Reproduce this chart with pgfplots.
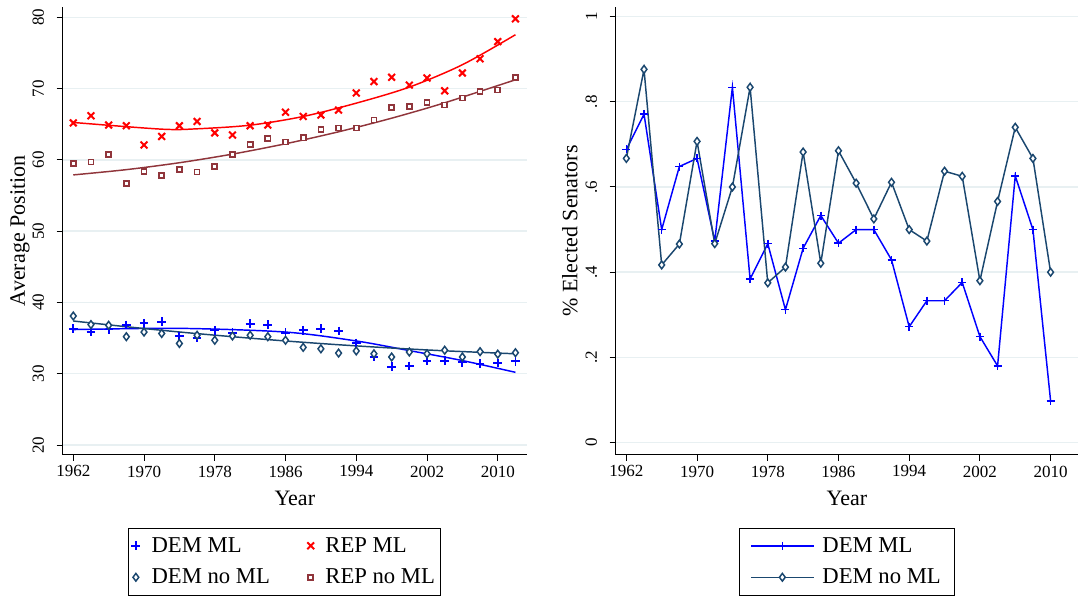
\documentclass[border=0pt]{standalone}
\usepackage{fontspec}
\setmainfont{Liberation Serif}
\usepackage{pgfplots}
\pgfplotsset{compat=1.18}
\definecolor{demblue}{RGB}{0,0,255}
\definecolor{repred}{RGB}{255,0,0}
\definecolor{navyc}{RGB}{26,71,111}
\definecolor{maroonc}{RGB}{144,53,59}
\definecolor{gridc}{RGB}{232,240,242}
\pgfplotsset{
  statastyle/.style={
    scale only axis,
    anchor=south west,
    axis x line*=bottom, axis y line*=left,
    axis line style={black, line width=0.75pt},
    tick align=outside,
    major tick length=4.5pt,
    major tick style={black, line width=0.75pt},
    ymajorgrids, grid style={color=gridc, line width=1.1pt},
    /pgf/number format/assume math mode=true,
    /pgf/number format/1000 sep={},
    tick label style={font=\fontsize{12.75}{14}\selectfont},
    yticklabel style={rotate=90, anchor=south},
    yticklabel shift=6pt,
    label style={font=\fontsize{16.5}{19}\selectfont},
    xtick={1962,1970,1978,1986,1994,2002,2010},
    xmin=1960.8,
  },
  lm/.style={only marks, legend image code/.code={\draw[mark repeat=2,mark phase=2,##1] plot coordinates {(0pt,0pt)(6pt,0pt)(12pt,0pt)};}},
  ll/.style={legend image code/.code={\draw[mark repeat=2,mark phase=2,##1] plot coordinates {(0pt,0pt)(23.5pt,0pt)(47pt,0pt)};}},
}
\begin{document}
\begin{tikzpicture}
\useasboundingbox (0,0) rectangle (808.5pt,449.25pt);
\begin{axis}[statastyle,
  at={(47pt,108pt)}, width=348.2pt, height=336.2pt,
  xmax=2013.3, ymin=18.6, ymax=81.5,
  ytick={20,30,40,50,60,70,80},
  xlabel={Year}, ylabel={Average Position},
  xlabel style={at={(axis description cs:0.5,-0.096)}, anchor=center},
  ylabel style={at={(axis description cs:-0.092,0.5)}, anchor=center},
  legend columns=2,
  legend cell align=left,
  legend style={at={(axis description cs:0.478,-0.162)}, anchor=north,
    draw=black, line width=0.6pt, font=\fontsize{17}{20}\selectfont,
    inner xsep=2pt, inner ysep=5pt, row sep=7pt,
    /tikz/every odd column/.append style={column sep=6.5pt},
    /tikz/every even column/.append style={column sep=26pt}},
]
\addplot[lm, demblue, mark=+, mark size=3.3pt, line width=1.4pt] coordinates {
(1962,36.3)(1964,35.85)(1966,36.2)(1968,36.85)(1970,37.1)(1972,37.3)(1974,35.3)(1976,35.05)(1978,36.1)(1980,35.75)(1982,37.0)(1984,36.9)(1986,35.75)(1988,36.1)(1990,36.3)(1992,36.0)(1994,34.3)(1996,32.4)(1998,31.0)(2000,31.1)(2002,31.85)(2004,31.85)(2006,31.6)(2008,31.4)(2010,31.5)(2012,31.75)};
\addlegendentry{DEM ML}
\addplot[lm, repred, mark=x, mark size=3.6pt, line width=1.5pt] coordinates {
(1962,65.2)(1964,66.2)(1966,64.9)(1968,64.8)(1970,62.1)(1972,63.3)(1974,64.8)(1976,65.4)(1978,63.8)(1980,63.5)(1982,64.8)(1984,64.9)(1986,66.7)(1988,66.1)(1990,66.3)(1992,67.0)(1994,69.4)(1996,71.0)(1998,71.6)(2000,70.5)(2002,71.5)(2004,69.7)(2006,72.2)(2008,74.2)(2010,76.6)(2012,79.8)};
\addlegendentry{REP ML}
\addplot[lm, navyc, mark=diamond*, mark size=2.9pt, line width=1.1pt, mark options={fill=white}] coordinates {
(1962,38.1)(1964,36.9)(1966,36.8)(1968,35.2)(1970,35.85)(1972,35.65)(1974,34.25)(1976,35.4)(1978,34.7)(1980,35.3)(1982,35.4)(1984,35.2)(1986,34.7)(1988,33.7)(1990,33.5)(1992,32.9)(1994,33.2)(1996,32.8)(1998,32.35)(2000,33.05)(2002,32.8)(2004,33.3)(2006,32.35)(2008,33.1)(2010,32.75)(2012,32.95)};
\addlegendentry{DEM no ML}
\addplot[lm, maroonc, mark=square*, mark size=1.9pt, line width=1.25pt, mark options={fill=white}] coordinates {
(1962,59.5)(1964,59.7)(1966,60.8)(1968,56.7)(1970,58.4)(1972,57.8)(1974,58.7)(1976,58.3)(1978,59.1)(1980,60.8)(1982,62.2)(1984,63.0)(1986,62.5)(1988,63.1)(1990,64.3)(1992,64.5)(1994,64.5)(1996,65.6)(1998,67.4)(2000,67.5)(2002,68.1)(2004,67.7)(2006,68.7)(2008,69.6)(2010,69.8)(2012,71.6)};
\addlegendentry{REP no ML}
% fitted curves
\addplot[forget plot, demblue, line width=1.1pt, smooth] coordinates {
(1962,36.2)(1974,36.37)(1986,35.85)(1994,34.6)(2000,33.25)(2006,31.85)(2012,30.2)};
\addplot[forget plot, repred, line width=1.1pt, smooth] coordinates {
(1962,65.26)(1972,64.32)(1976,64.37)(1982,64.88)(1988,66.10)(1994,67.97)(2000,70.22)(2006,73.36)(2012,77.57)};
\addplot[forget plot, navyc, line width=1.1pt, smooth] coordinates {
(1962,37.4)(1968,36.60)(1974,35.86)(1980,35.20)(1986,34.60)(1992,34.07)(1998,33.61)(2004,33.22)(2012,32.8)};
\addplot[forget plot, maroonc, line width=1.1pt, smooth] coordinates {
(1962,57.9)(1968,58.64)(1974,59.61)(1980,60.82)(1986,62.27)(1992,63.95)(1998,65.86)(2004,68.02)(2012,71.25)};
\end{axis}
\begin{axis}[statastyle,
  at={(461.8pt,108pt)}, width=346.7pt, height=336.2pt,
  xmax=2013.1, ymin=-0.029, ymax=1.023,
  ytick={0,0.2,0.4,0.6,0.8,1}, yticklabels={0,.2,.4,.6,.8,1},
  xlabel={Year}, ylabel={\% Elected Senators},
  xlabel style={at={(axis description cs:0.5,-0.096)}, anchor=center},
  ylabel style={at={(axis description cs:-0.099,0.5)}, anchor=center},
  legend cell align=left,
  legend style={at={(axis description cs:0.5,-0.162)}, anchor=north,
    draw=black, line width=0.6pt, font=\fontsize{17}{20}\selectfont,
    inner xsep=8pt, inner ysep=5pt, row sep=7pt,
    /tikz/every odd column/.append style={column sep=4pt}},
]
\addplot[ll, demblue, line width=1.1pt, mark=+, mark size=3pt] coordinates {
(1962,0.688)(1964,0.771)(1966,0.500)(1968,0.648)(1970,0.667)(1972,0.473)(1974,0.834)(1976,0.384)(1978,0.467)(1980,0.312)(1982,0.456)(1984,0.533)(1986,0.468)(1988,0.500)(1990,0.500)(1992,0.429)(1994,0.272)(1996,0.333)(1998,0.333)(2000,0.376)(2002,0.249)(2004,0.180)(2006,0.626)(2008,0.500)(2010,0.098)};
\addlegendentry{DEM ML}
\addplot[ll, navyc, line width=1.1pt, mark=diamond*, mark size=2.9pt, mark options={fill=white}] coordinates {
(1962,0.667)(1964,0.876)(1966,0.417)(1968,0.466)(1970,0.707)(1972,0.467)(1974,0.600)(1976,0.834)(1978,0.375)(1980,0.412)(1982,0.682)(1984,0.421)(1986,0.685)(1988,0.609)(1990,0.525)(1992,0.611)(1994,0.500)(1996,0.473)(1998,0.637)(2000,0.625)(2002,0.380)(2004,0.566)(2006,0.740)(2008,0.667)(2010,0.400)};
\addlegendentry{DEM no ML}
\end{axis}
\end{tikzpicture}
\end{document}
